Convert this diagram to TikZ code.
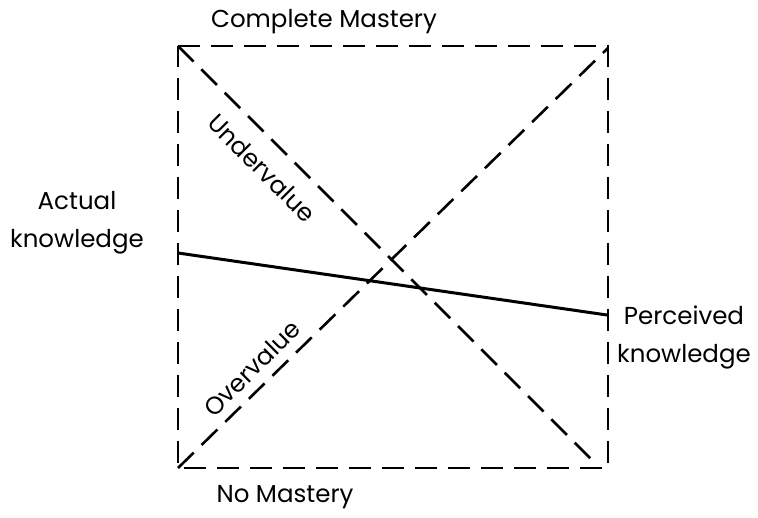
\documentclass[tikz,border=0pt]{standalone}
\usepackage{fontspec}
\setmainfont{Poppins}
\begin{document}
\begin{tikzpicture}[x=1pt,y=-1pt,
  dsh/.style={line width=2.6pt,dash pattern=on 22pt off 11pt},
  lbl/.style={font=\fontsize{24.5}{38}\selectfont,inner sep=0pt},
  lblr/.style={font=\fontsize{24.5}{38}\selectfont,inner sep=0pt,align=center}]
\useasboundingbox (0,0) rectangle (758,518);
\coordinate (tl) at (178,46);
\coordinate (tr) at (608,46);
\coordinate (bl) at (178,468);
\coordinate (br) at (608,468);
\coordinate (d1) at (594,462);
\coordinate (tr2) at (608,48);
\coordinate (sa) at (178,253);
\coordinate (sb) at (607,315);
\draw[dsh] (tl) -- (tr) -- (br) -- (bl) -- cycle;
\draw[dsh] (tl) -- (d1);
\draw[dsh] (bl) -- (tr2);
\draw[line width=3pt] (sa) -- (sb);
\node[lbl] (cm) at (324,22) {Complete Mastery};
\node[lbl] (nm) at (285,497) {No Mastery};
\node[lblr] (ak) at (77,223) {Actual\\knowledge};
\node[lblr] (pk) at (684,337) {Perceived\\knowledge};
\node[lbl,rotate=-45] (uv) at (262,168) {Undervalue};
\node[lbl,rotate=45] (ov) at (252,368) {Overvalue};
\end{tikzpicture}
\end{document}
